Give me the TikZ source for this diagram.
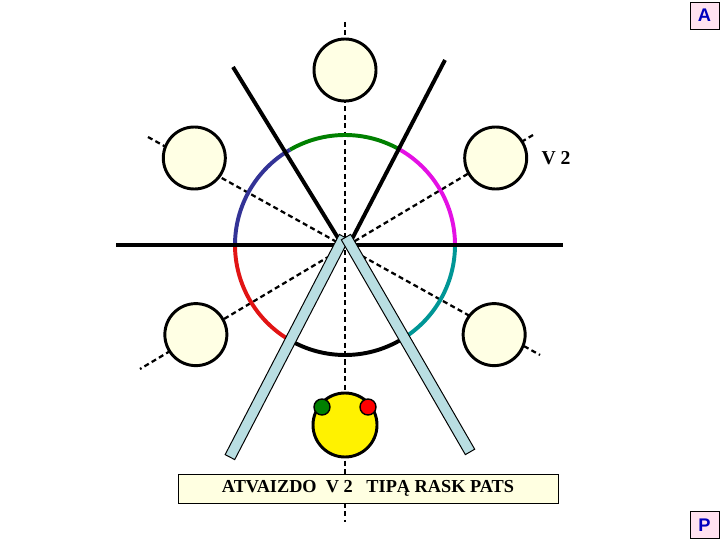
\documentclass[tikz,border=0pt]{standalone}
\usepackage{fontspec}
\setmainfont{Liberation Serif}
\newfontfamily\cornerfont{Liberation Sans}
\usetikzlibrary{positioning, calc}

\definecolor{spotfill}{RGB}{255,255,228}
\definecolor{arcgreen}{RGB}{0,128,0}
\definecolor{arcmagenta}{RGB}{228,16,228}
\definecolor{arcteal}{RGB}{0,150,150}
\definecolor{arcred}{RGB}{225,20,20}
\definecolor{arcblue}{RGB}{51,51,150}
\definecolor{mirrorfill}{RGB}{185,222,226}
\definecolor{notefill}{RGB}{255,255,225}
\definecolor{cornerfill}{RGB}{255,226,240}
\definecolor{cornerblue}{RGB}{0,0,190}

\begin{document}
\begin{tikzpicture}[
  x=0.025cm, y=0.025cm,
  spot/.style={
    draw, circle, line width=2.1pt, fill=spotfill,
    minimum size=1.55cm, inner sep=0pt
  },
  mirror/.style={
    draw, rectangle, line width=0.7pt, fill=mirrorfill,
    minimum width=6.2cm, minimum height=0.27cm, inner sep=0pt
  },
  dashline/.style={line width=1.6pt, dash pattern=on 3.6pt off 2.4pt},
  ray/.style={line width=2.8pt},
  arcpen/.style={line width=2.8pt},
  dot/.style={draw, circle, line width=1pt, minimum size=0.4cm, inner sep=0pt},
  cornerbox/.style={
    draw, rectangle, line width=0.6pt, fill=cornerfill,
    minimum width=0.725cm, minimum height=0.675cm,
    font=\cornerfont\bfseries\fontsize{13}{15}\selectfont, text=cornerblue
  }
]
\useasboundingbox (0,0) rectangle (720,540);

% --- centre and dashed axes ---
\coordinate (c) at (345,295);
\coordinate (topEnd) at (345,518);
\coordinate (botEnd) at (345,18);
\coordinate (ulEnd)  at (148,403);
\coordinate (lrEnd)  at (540,185);
\coordinate (urEnd)  at (533,405);
\coordinate (llEnd)  at (140,171);

\draw[dashline] (topEnd) -- (botEnd);
\draw[dashline] (ulEnd) -- (lrEnd);
\draw[dashline] (urEnd) -- (llEnd);

% --- five spots round the centre ---
\node[spot] (spotT)  at ($(c)+(90:175)$)  {};
\node[spot] (spotUL) at ($(c)+(150:174)$) {};
\node[spot] (spotUR) at ($(c)+(30:174)$)  {};
\node[spot] (spotLL) at ($(c)+(211:174)$) {};
\node[spot] (spotLR) at ($(c)+(329:174)$) {};

% --- coloured circle, six arcs ---
\draw[arcpen, arcgreen]   ([shift={(60:110)}]c)  arc (60:120:110);
\draw[arcpen, arcblue]    ([shift={(120:110)}]c) arc (120:180:110);
\draw[arcpen, arcred]     ([shift={(180:110)}]c) arc (180:240:110);
\draw[arcpen, black]      ([shift={(240:110)}]c) arc (240:300:110);
\draw[arcpen, arcteal]    ([shift={(300:110)}]c) arc (300:360:110);
\draw[arcpen, arcmagenta] ([shift={(0:110)}]c)   arc (0:60:110);

% --- thick black lines ---
\coordinate (hL) at (116,295);
\coordinate (hR) at (563,295);
\coordinate (rayLtop) at (233,473);
\coordinate (rayLend) at (338,302);
\coordinate (rayRtop) at (445,480);
\coordinate (rayRend) at (352,301);
\draw[ray] (hL) -- (hR);
\draw[ray] (rayLtop) -- (rayLend);
\draw[ray] (rayRtop) -- (rayRend);

% --- two mirrors ---
\node[mirror, rotate=62.6]  (mirL) at (287,193) {};
\node[mirror, rotate=-60.0] (mirR) at (408,195.5) {};

% --- yellow ball with two dots ---
\node[spot, fill=yellow, minimum size=1.6cm] (ball) at (345,115) {};
\node[dot, fill=arcgreen] (dotG) at (322,133) {};
\node[dot, fill=red]      (dotR) at (368,133) {};

% --- note and labels ---
\node[draw, line width=0.6pt, fill=notefill, minimum width=9.5cm,
      minimum height=0.725cm, font=\fontsize{13}{15}\selectfont\bfseries]
      (note) at (368,51.5) {ATVAIZDO\ \ V 2\ \ \ TIPĄ RASK PATS};
\node[font=\fontsize{14}{16}\selectfont\bfseries] (v2) at (556,382) {V 2};

\node[cornerbox] (cornerA) at (704.5,524.5) {A};
\node[cornerbox] (cornerP) at (704.5,15) {P};

\end{tikzpicture}
\end{document}
